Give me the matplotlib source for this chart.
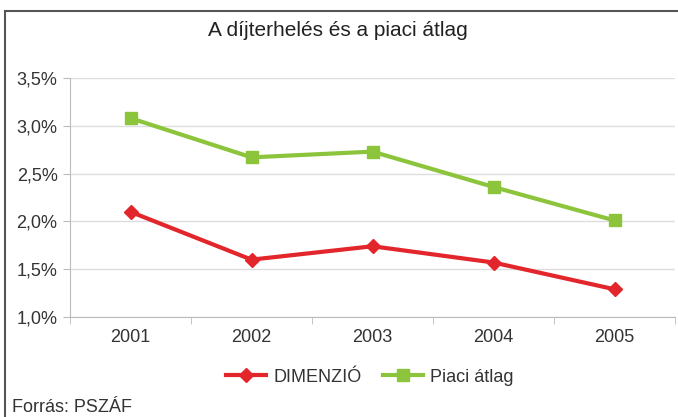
import matplotlib.pyplot as plt
from matplotlib.patches import Rectangle
from matplotlib.ticker import FuncFormatter

years = ["2001", "2002", "2003", "2004", "2005"]
dimenzio = [2.10, 1.60, 1.74, 1.57, 1.29]
piaci = [3.08, 2.67, 2.73, 2.36, 2.01]

RED = "#e3262b"
GREEN = "#8cc43c"
TEXT = "#333333"

plt.rcParams["font.family"] = ["Liberation Sans", "DejaVu Sans"]

fig = plt.figure(figsize=(6.78, 4.17), dpi=100)
fig.patch.set_facecolor("white")

# outer frame (right and bottom edges run off the picture)
fig.patches.append(Rectangle((5 / 678, -0.05), 1.0, 1 - 11 / 417 + 0.05,
                             transform=fig.transFigure, fill=False,
                             edgecolor="#555555", linewidth=1.5))

ax = fig.add_axes([70 / 678, 1 - 317 / 417, 605 / 678, (317 - 78) / 417])
x = list(range(len(years)))
ax.plot(x, dimenzio, color=RED, linewidth=3, marker="D", markersize=7,
        label="DIMENZIÓ", zorder=3)
ax.plot(x, piaci, color=GREEN, linewidth=3, marker="s", markersize=8,
        label="Piaci átlag", zorder=3)

ax.set_xlim(-0.5, len(years) - 0.5)
ax.set_ylim(1.0, 3.5)
ax.set_yticks([1.0, 1.5, 2.0, 2.5, 3.0, 3.5])
ax.yaxis.set_major_formatter(FuncFormatter(lambda v, p: f"{v:.1f}%".replace(".", ",")))
ax.set_xticks(x)
ax.set_xticklabels(years)
ax.set_xticks([i - 0.5 for i in range(len(years) + 1)], minor=True)
ax.tick_params(axis="x", which="major", length=0, pad=9, labelsize=13, colors=TEXT)
ax.tick_params(axis="x", which="minor", length=5, color="#bbbbbb", direction="out")
ax.tick_params(axis="y", length=5, color="#bbbbbb", pad=4, labelsize=13, labelcolor=TEXT)
ax.grid(axis="y", color="#dddddd", linewidth=1)
for side in ["top", "right"]:
    ax.spines[side].set_visible(False)
ax.spines["left"].set_color("#bbbbbb")
ax.spines["bottom"].set_color("#bbbbbb")

fig.text(338 / 678, 1 - 31 / 417, "A díjterhelés és a piaci átlag",
         ha="center", va="center", fontsize=15, color="#222222")

fig.legend(loc="center", bbox_to_anchor=(370 / 678, 1 - 377 / 417), ncol=2,
           frameon=False, fontsize=13, handlelength=2.2, handletextpad=0.4,
           columnspacing=1.2, labelcolor=TEXT)

fig.text(12 / 678, 1 - 407 / 417, "Forrás: PSZÁF", ha="left", va="center",
         fontsize=13, color=TEXT)

fig.savefig("out.png", dpi=100)
